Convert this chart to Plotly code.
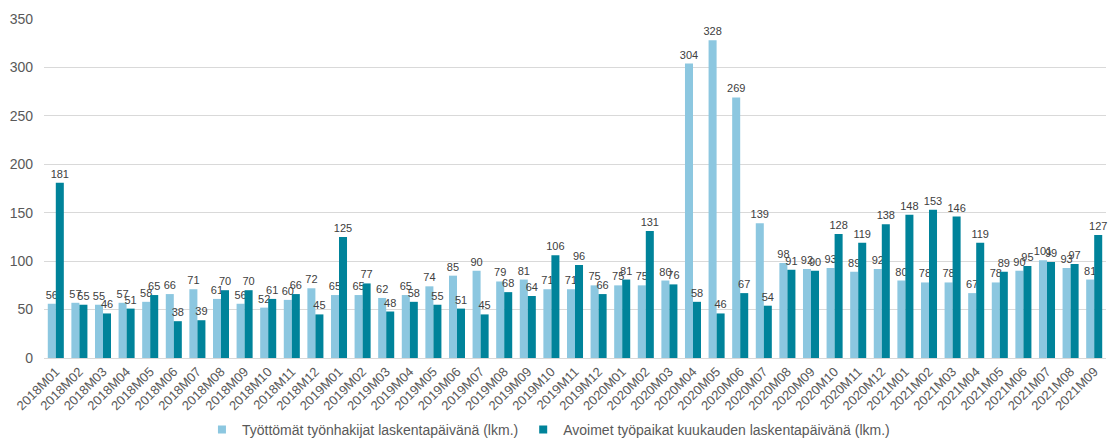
import plotly.graph_objects as go

months = [
    "2018M01", "2018M02", "2018M03", "2018M04", "2018M05", "2018M06",
    "2018M07", "2018M08", "2018M09", "2018M10", "2018M11", "2018M12",
    "2019M01", "2019M02", "2019M03", "2019M04", "2019M05", "2019M06",
    "2019M07", "2019M08", "2019M09", "2019M10", "2019M11", "2019M12",
    "2020M01", "2020M02", "2020M03", "2020M04", "2020M05", "2020M06",
    "2020M07", "2020M08", "2020M09", "2020M10", "2020M11", "2020M12",
    "2021M01", "2021M02", "2021M03", "2021M04", "2021M05", "2021M06",
    "2021M07", "2021M08", "2021M09",
]

unemployed = [
    56, 57, 55, 57, 58, 66, 71, 61, 56, 52, 60, 72,
    65, 65, 62, 65, 74, 85, 90, 79, 81, 71, 71, 75,
    75, 75, 80, 304, 328, 269, 139, 98, 92, 93, 89, 92,
    80, 78, 78, 67, 78, 90, 101, 93, 81,
]

vacancies = [
    181, 55, 46, 51, 65, 38, 39, 70, 70, 61, 66, 45,
    125, 77, 48, 58, 55, 51, 45, 68, 64, 106, 96, 66,
    81, 131, 76, 58, 46, 67, 54, 91, 90, 128, 119, 138,
    148, 153, 146, 119, 89, 95, 99, 97, 127,
]

series_names = [
    "Työttömät työnhakijat laskentapäivänä (lkm.)",
    "Avoimet työpaikat kuukauden laskentapäivänä (lkm.)",
]

y_ticks = [0, 50, 100, 150, 200, 250, 300, 350]

LIGHT = "#8CC7E0"
DARK = "#00839A"
TEXT = "#404040"
AXIS_TEXT = "#595959"
FONT = "Liberation Sans, Arial, sans-serif"

fig = go.Figure()
for values, name, color in zip([unemployed, vacancies], series_names, [LIGHT, DARK]):
    fig.add_trace(go.Bar(
        x=months, y=values, name=name, showlegend=False,
        marker=dict(color=color, line=dict(width=0)),
        text=values, textposition="outside", cliponaxis=False,
        textfont=dict(size=11, color=TEXT, family=FONT),
        constraintext="none",
    ))

# small square legend keys
for name, color in zip(series_names, [LIGHT, DARK]):
    fig.add_trace(go.Scatter(
        x=[None], y=[None], mode="markers", name=name,
        marker=dict(symbol="square", size=8, color=color),
    ))

fig.update_layout(
    width=1108, height=438,
    margin=dict(l=44, r=2, t=19, b=80, autoexpand=False),
    paper_bgcolor="white", plot_bgcolor="white",
    barmode="group", bargap=0.32, bargroupgap=0.0,
    font=dict(family=FONT, size=12, color=AXIS_TEXT),
    showlegend=True,
    legend=dict(
        orientation="h", x=0.475, xanchor="center", y=-0.212, yanchor="middle",
        font=dict(size=14, color=AXIS_TEXT, family=FONT),
        itemwidth=30, traceorder="normal",
    ),
    xaxis=dict(
        tickangle=-45, tickfont=dict(size=13, color=AXIS_TEXT),
        showgrid=False, showline=True, linecolor="#D9D9D9", linewidth=1,
        ticks="", automargin=False,
    ),
    yaxis=dict(
        range=[0, 350], tickvals=y_ticks,
        tickfont=dict(size=14, color=AXIS_TEXT),
        ticklabelstandoff=10,
        showgrid=True, gridcolor="#D9D9D9", gridwidth=1,
        zeroline=False, showline=False, ticks="", automargin=False,
    ),
)

fig.write_html("out.html")
